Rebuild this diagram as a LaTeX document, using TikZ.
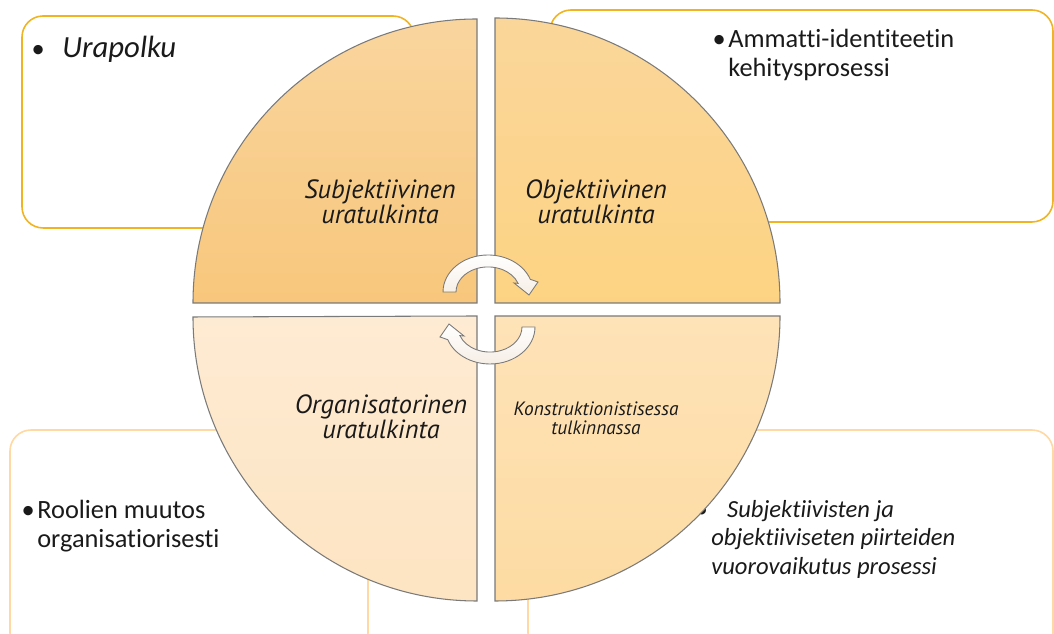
\documentclass[tikz,border=0pt]{standalone}
\usepackage{fontspec}
\setmainfont{Carlito}[Ligatures=NoCommon]
\newfontfamily\quadfont{PT Sans}
\usepackage{tikz}
\usetikzlibrary{positioning}
\definecolor{goldline}{HTML}{F0B422}
\definecolor{paleline}{HTML}{FFD8A2}
\definecolor{quadline}{HTML}{7A7A7A}
\definecolor{tltop}{HTML}{F9D59E}
\definecolor{tlbot}{HTML}{F8C77C}
\definecolor{trtop}{HTML}{FAD69A}
\definecolor{trbot}{HTML}{FDD383}
\definecolor{bltop}{HTML}{FEEBD3}
\definecolor{blbot}{HTML}{FDE4C2}
\definecolor{brtop}{HTML}{FEE3B8}
\definecolor{brbot}{HTML}{FDDBA2}
\definecolor{arrowfill}{HTML}{F6EEE6}
\definecolor{ink}{HTML}{1A1A1A}
\tikzstyle{infobox}  =[rounded corners=12pt, line width=0.9pt, fill=white]
\tikzstyle{quad}     =[draw=quadline, line width=0.6pt]
\tikzstyle{quadlabel}=[align=center, inner sep=0pt, anchor=north, text=ink,
                       font=\quadfont\itshape\fontsize{15}{14.2}\selectfont]
\tikzstyle{boxtext}  =[align=left, inner sep=0pt, anchor=north west, text=ink,
                       font=\fontsize{15}{16.2}\selectfont]
\tikzstyle{turn}     =[draw=quadline, line width=0.5pt,
                       top color=white, bottom color=arrowfill]

\begin{document}
\begin{tikzpicture}[x=0.02cm, y=0.02cm]
    \clip (0,0) rectangle (1054,634);

    \draw [infobox, draw=goldline] (22,406) rectangle (414,618);
    \draw [infobox, draw=goldline] (550,412) rectangle (1053,624);
    \draw [infobox, draw=paleline] (10,-20) rectangle (368,204);
    \draw [infobox, draw=paleline] (528,-20) rectangle (1053,204);

    \draw (62,576) node (urapolku) [anchor=base west, inner sep=0pt, text=ink,
        font=\itshape\fontsize{17.5}{18}\selectfont]
        {\llap{\upshape\fontsize{15}{15}\selectfont\textbullet\hspace{10pt}}Urapolku};
    \draw (728,605) node (ammatti) [boxtext]
        {\llap{\textbullet\hspace{1.5pt}}Ammatti-identiteetin\\kehitysprosessi};
    \draw (37,134) node (roolien) [boxtext]
        {\llap{\textbullet\hspace{1.5pt}}Roolien muutos\\organisatiorisesti};
    \draw (711,134) node (vuoro) [boxtext, font=\itshape\fontsize{14}{16.2}\selectfont]
        {\llap{\upshape\textbullet\hspace{2pt}}\hspace{9pt}Subjektiivisten ja\\
         objektiiviseten piirteiden\\vuorovaikutus prosessi};

    \draw [quad, top color=tltop, bottom color=tlbot]
        (477,331) -- (193,331) arc [start angle=180, end angle=90, radius=284] -- cycle;
    \draw [quad, top color=trtop, bottom color=trbot]
        (495,331) -- (495,616) arc [start angle=90, end angle=0, radius=285] -- cycle;
    \draw [quad, top color=bltop, bottom color=blbot]
        (477,318) -- (477,33) arc [start angle=270, end angle=180, radius=284] -- cycle;
    \draw [quad, top color=brtop, bottom color=brbot]
        (495,318) -- (780,318) arc [start angle=0, end angle=-90, radius=285] -- cycle;

    \foreach \rot in {0,180}
        \draw [turn, rotate around={\rot:(489,324.5)}]
            (443,342) arc [start angle=180, end angle=20, x radius=45, y radius=37]
            -- (538,352) -- (529,339) -- (514,351) -- (518.1,350.6)
            arc [start angle=20, end angle=180, x radius=32, y radius=25] -- cycle;

    \draw (380,455) node (subj) [quadlabel] {Subjektiivinen\\uratulkinta};
    \draw (596,455) node (obj) [quadlabel] {Objektiivinen\\uratulkinta};
    \draw (381,240) node (org) [quadlabel] {Organisatorinen\\uratulkinta};
    \draw (596,233) node (konstr) [quadlabel, font=\quadfont\itshape\fontsize{11}{10.8}\selectfont]
        {Konstruktionistisessa\\tulkinnassa};

\end{tikzpicture}
\end{document}
